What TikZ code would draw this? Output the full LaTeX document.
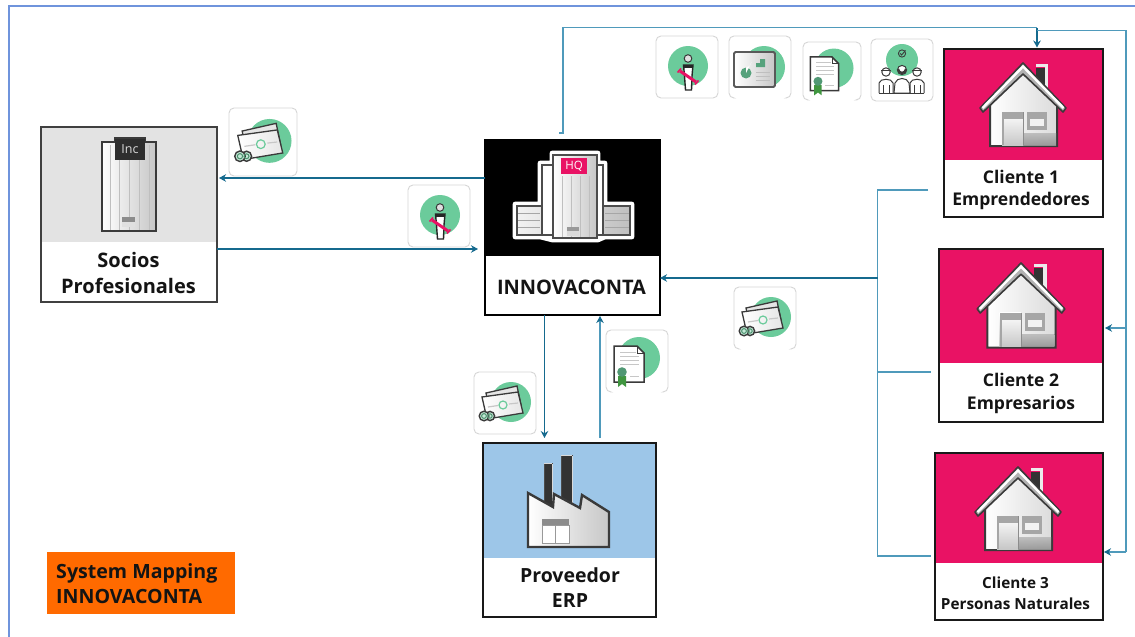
\documentclass[tikz,border=0pt]{standalone}
\usepackage{fontspec}
\setmainfont{Open Sans}
\usetikzlibrary{arrows.meta,calc}
\definecolor{flowdark}{HTML}{156A8E}
\definecolor{flowlight}{HTML}{4F9ABB}
\definecolor{framecol}{HTML}{6F94DC}
\definecolor{tilegreen}{HTML}{6BCB9B}
\definecolor{pinkred}{HTML}{E91264}
\definecolor{greybg}{HTML}{E3E3E3}
\definecolor{bluebg}{HTML}{9DC6E8}
\definecolor{orangebg}{HTML}{FF6A00}
\definecolor{ink}{HTML}{3A3A3A}
\tikzset{
  flow/.style={draw=flowdark,line width=1.2pt},
  flowsoft/.style={draw=flowlight,line width=1.4pt},
  tip/.style={-{Stealth[length=7pt,width=7.5pt,flowdark]}},
  cardbox/.style={rectangle,fill=white,inner sep=0pt,outer sep=0pt},
  cardtext/.style={font=\bfseries,text=black!92,align=center,inner sep=0pt},
  shiny/.style={left color=white,right color=black!22},
  tileedge/.style={draw=black!16,line width=.9pt},
  tile/.pic={\draw[tileedge,fill=white,rounded corners=5pt] (0,0) rectangle (62,62);},
  tileopen/.pic={\draw[tileedge,fill=white,rounded corners=5pt] (4,62) -- (0,62) -- (0,0) -- (62,0) -- (62,62) -- (58,62);},
  personart/.pic={
    \fill[tilegreen] (32,30) circle (20);
    \filldraw[fill=black!12,draw=ink,line width=1pt] (32,22.5) circle (3.8);
    \filldraw[fill=white,draw=black!85,line width=1.4pt] (27.5,29) -- (37,29) -- (36,40) -- (35.5,54) -- (29.5,54) -- (28.5,40) -- cycle;
    \fill[black!85] (27.5,29) rectangle (37,32);
    \draw[pinkred,line width=3pt] (24,35) -- (40,46);
    \draw[pinkred,line width=1.6pt] (21.5,36.5) -- (25,32.5) (39,48.5) -- (42.5,44.5);
  },
  moneyart/.pic={
    \fill[tilegreen] (37,30) circle (20);
    \filldraw[fill=black!10,draw=ink,line width=1.3pt] (12,21) -- (43,14) -- (47,33) -- (16,40) -- cycle;
    \filldraw[left color=white,right color=black!10,draw=ink,line width=1.3pt] (8,25) -- (44,20) -- (49,41) -- (13,47) -- cycle;
    \draw[black!22,line width=1.2pt] (14,35) -- (24,33.5) (35,32) -- (44,31);
    \draw[tilegreen,line width=1.2pt] (29,33) circle (4);
    \filldraw[fill=tilegreen!40,draw=ink,line width=1.4pt] (16,44) circle (4.6);
    \filldraw[fill=tilegreen!40,draw=ink,line width=1.4pt] (10,44) circle (4.8);
    \draw[tilegreen!70!black,line width=1pt] (10,44) circle (2.4) (16,44) circle (2.2);
  },
  chartart/.pic={
    \fill[tilegreen] (35,31) circle (21);
    \filldraw[shiny,draw=black!65,line width=1.8pt,rounded corners=1.5pt] (5,16) rectangle (46,51);
    \fill[tilegreen!80!black] (17,37) circle (5.5);
    \fill[white] (17,37) -- (17,31.5) arc (90:0:5.5) -- cycle;
    \fill[tilegreen!80!black] (27,27) rectangle (31,31) (31,23) rectangle (36,31);
    \draw[black!25,line width=.7pt] (27,36) -- (41,36) (27,40) -- (41,40) (27,44) -- (41,44);
  },
  certart/.pic={
    \fill[tilegreen] (33,28) circle (21);
    \filldraw[fill=white,draw=ink,line width=1.5pt] (8,16) -- (31,16) -- (38,23) -- (38,52) -- (8,52) -- cycle;
    \draw[ink,line width=.8pt] (31,16) -- (31,23) -- (38,23);
    \draw[black!22,line width=.6pt] (14,22) -- (30,22) (14,26) -- (33,26) (14,30) -- (33,30) (14,34) -- (33,34) (24,46) -- (33,46);
    \fill[green!45!black!75] (12,46) -- (20,46) -- (20,57) -- (16,54) -- (12,57) -- cycle;
    \fill[tilegreen!75!black] (16,42) circle (4.8);
  },
  teamart/.pic={
    \fill[tilegreen] (31,21) circle (16);
    \draw[ink,line width=.9pt] (31,14.5) circle (3.6);
    \draw[ink,line width=.9pt] (29.2,14.5) -- (30.6,16) -- (34.5,11.5);
    \foreach \px/\py in {15/33,46/33} {
      \filldraw[fill=white,draw=ink,line width=1pt] (\px,\py) circle (4.2);
      \draw[ink,line width=1.3pt] (\px-4.6,\py-1.5) -- (\px+4.6,\py-1.5);
      \draw[ink,line width=1pt] (\px-7,54) -- (\px-7,44) .. controls (\px-6,39) and (\px+6,39) .. (\px+7,44) -- (\px+7,54);
      \draw[ink,line width=.8pt] (\px-3,54) -- (\px-3,46) (\px+3,54) -- (\px+3,46);
    }
    \filldraw[fill=white,draw=ink,line width=1pt] (31,31) circle (4.6);
    \draw[ink,line width=2.4pt] (27,30) arc (180:0:4);
    \filldraw[fill=white,draw=ink,line width=1pt] (23,54) -- (24,44) .. controls (26,38) and (36,38) .. (38,44) -- (39,54) -- cycle;
    \draw[ink,line width=1pt] (8,54) -- (53,54);
  },
  house/.pic={
    \fill[black!80] (13,5) rectangle (22,28);
    \fill[black!8] (13,1) rectangle (25,4);
    \fill[black!8] (22,1) rectangle (25,28);
    \filldraw[left color=white,right color=black!14,draw=ink,line width=2pt] (-33,42) -- (0,9) -- (34,42) -- (34,83) -- (-33,83) -- cycle;
    \fill[bottom color=black!22,top color=white,opacity=.6] (-10,70) rectangle (33,82);
    \filldraw[fill=black!30,draw=ink,line width=1.6pt,join=round] (0,0) -- (43,45) -- (40,49) -- (0,11) -- (-40,49) -- (-43,45) -- cycle;
    \draw[white,line width=2.4pt] (-40.5,45) -- (0,3.5) -- (40.5,45);
    \fill[top color=white,bottom color=black!22] (-21,49) rectangle (0,82);
    \fill[black!35] (-21,49) rectangle (0,56);
    \fill[black!35] (-21,49) rectangle (-19,82);
    \draw[black!45,line width=.6pt] (0,49) -- (0,82);
    \fill[black!35] (4,49) rectangle (24,67);
    \fill[black!5] (7,56) rectangle (21,63);
  }
}
\newcommand{\card}[7]{% name, center, w, h, split y, top colour, border
  \node[cardbox,minimum width=#3pt,minimum height=#4pt] (#1) at (#2) {};
  \fill[#6] (#1.north west) rectangle (#1.east |- 0,#5);
  \draw[#7,line width=2pt] (#1.north west) rectangle (#1.south east);
}
\begin{document}
\begin{tikzpicture}[x=1pt,y=-1pt]
\useasboundingbox (0,0) rectangle (1135,637);
\fill[white] (0,0) rectangle (1135,637);
\draw[framecol,line width=2pt] (1135,6) -- (8.5,6) -- (8.5,637);

% cards
\card{socios}{129,214.5}{176}{175}{242}{greybg}{black!75}
\card{inno}{572.5,227.5}{175}{175}{256}{black}{black}
\card{prov}{569.5,530}{173}{174}{558}{bluebg}{black!90}
\card{cuno}{1023.5,133}{159}{168}{160}{pinkred}{black!90}
\card{cdos}{1021,335.5}{164}{173}{363}{pinkred}{black!90}
\card{ctres}{1019,536.5}{168}{167}{563}{pinkred}{black!90}

% card labels
\node[cardtext,font=\fontsize{20}{25.5}\selectfont\bfseries] (sociost) at (128.5,273) {Socios\\Profesionales};
\node[cardtext,font=\fontsize{20}{24}\selectfont\bfseries] (innot) at (571.5,287) {INNOVACONTA};
\node[cardtext,font=\fontsize{19.5}{25}\selectfont\bfseries] (provt) at (570,587.5) {Proveedor\\ERP};
\node[cardtext,font=\fontsize{17.5}{22.5}\selectfont\bfseries] (cunot) at (1021,190) {Cliente 1\\Emprendedores};
\node[cardtext,font=\fontsize{17.5}{23}\selectfont\bfseries] (cdost) at (1021,393.5) {Cliente 2\\Empresarios};
\node[cardtext,font=\fontsize{15.3}{21}\selectfont\bfseries] (ctrest) at (1015.5,593.5) {Cliente 3\\Personas Naturales};
\node[fill=orangebg,minimum width=188pt,minimum height=62pt,inner sep=0pt,outer sep=0pt] (orange) at (141,583) {};
\node[cardtext,align=left,anchor=west,font=\fontsize{19.6}{25}\selectfont\bfseries] (oranget) at (56,583.5) {System Mapping\\INNOVACONTA};

% Inc tower
\filldraw[shiny,draw=ink,line width=2.2pt] (102,142) -- (115,142) -- (115,138) -- (145,138) -- (145,142) -- (156,142) -- (156,231) -- (102,231) -- cycle;
\draw[black!25,line width=.6pt] (110,145) -- (110,230) (119,160) -- (119,230) (129,160) -- (129,230) (139,160) -- (139,230) (149,145) -- (149,230);
\fill[black!45] (122,217) rectangle (135,222);
\fill[black!12] (122,222) rectangle (135,227);
\node[fill=black!82,text=black!15,minimum width=30pt,minimum height=21pt,inner sep=0pt,font=\fontsize{12.5}{12}\selectfont] (inc) at (130,149) {Inc};

% HQ tower
\filldraw[fill=white,draw=white,line width=4.6pt,join=round] (515,204) -- (540,204) -- (540,163) -- (552,163) -- (552,153) -- (598,153) -- (598,163) -- (605,163) -- (605,204) -- (632,204) -- (632,237) -- (605,237) -- (598,240) -- (552,240) -- (540,237) -- (515,237) -- cycle;
\filldraw[left color=black!5,right color=black!25,draw=black!70,line width=2.4pt] (517,206) rectangle (630,235);
\draw[black!35,line width=.7pt] (518,213) -- (540,213) (518,220) -- (540,220) (518,227) -- (540,227) (605,213) -- (629,213) (605,220) -- (629,220) (605,227) -- (629,227);
\filldraw[fill=white,draw=black!70,line width=2.4pt] (542,165) rectangle (603,235);
\filldraw[shiny,draw=black!70,line width=2.4pt] (553,155) rectangle (597,238);
\draw[black!25,line width=.6pt] (562,176) -- (562,237) (571,176) -- (571,237) (580,176) -- (580,237) (589,176) -- (589,237);
\fill[black!40] (567,227) rectangle (579,231);
\fill[black!15] (567,231) rectangle (579,236);
\node[fill=pinkred,text=white,minimum width=26pt,minimum height=16pt,inner sep=0pt,font=\fontsize{11.5}{12}\selectfont] (hq) at (574,166) {HQ};

% factory
\filldraw[fill=black!80,draw=black!70,line width=1pt] (544,463) rectangle (552,505);
\filldraw[fill=black!80,draw=black!70,line width=1pt] (561,455) rectangle (572,505);
\draw[black!15,line width=1pt] (552,464) -- (552,505) (572,456) -- (572,505) (544,463) -- (552,463) (561,455) -- (572,455);
\filldraw[shiny,draw=ink,line width=2.4pt] (528,493) -- (553,507) -- (554,494) -- (580,508) -- (582,495) -- (609,512) -- (609,547) -- (528,547) -- cycle;
\fill[black!45] (542,519) rectangle (569,525);
\filldraw[fill=white,draw=black!40,line width=.7pt] (542,525) rectangle (555.5,543);
\filldraw[fill=white,draw=black!40,line width=.7pt] (555.5,525) rectangle (569,543);

% houses
\pic (houseuno) at (1023,63) {house};
\pic[scale=1.02] (housedos) at (1021,263) {house};
\pic (housetres) at (1018,467) {house};

% tiles
\pic[scale=68/62] (tmoneya) at (229,108) {tile};
\pic[scale=68/62] (amoneya) at (229,108) {moneyart};
\pic (tpersona) at (408,185) {tile};
\pic (apersona) at (408,185) {personart};
\pic (tpersonb) at (656,36) {tile};
\pic (apersonb) at (656,36) {personart};
\pic (tchart) at (729,36) {tileopen};
\pic (achart) at (729,36) {chartart};
\pic[scale=58/62] (tcerta) at (803,42) {tileopen};
\pic[scale=58/62] (acerta) at (803,42) {certart};
\pic (tteam) at (871,39) {tile};
\pic (ateam) at (871,39) {teamart};
\pic (tmoneyb) at (474,372) {tile};
\pic (amoneyb) at (474,372) {moneyart};
\pic (tcertb) at (606,330) {tileopen};
\pic (acertb) at (606,330) {certart};
\pic (tmoneyc) at (734,287) {tileopen};
\pic (amoneyc) at (734,287) {moneyart};

% free connector points
\coordinate (busone) at (877.5,190);
\coordinate (bustwo) at (877.5,372);
\coordinate (busthree) at (877.5,556);
\coordinate (busin) at (877.5,278);
\coordinate (stubone) at (928,190);
\coordinate (stubtwo) at (931,372);
\coordinate (stubthree) at (931,556);
\coordinate (topstart) at (559,133);
\coordinate (topleft) at (563,133);
\coordinate (topcorner) at (563,27.5);
\coordinate (topj) at (1037,27.5);
\coordinate (rightj) at (1037,30.5);
\coordinate (rightc) at (1126,30.5);
\coordinate (righta) at (1126,328);
\coordinate (rightb) at (1126,552);

% connectors
\draw[flow,tip,shorten >=2pt] (inno.west |- 0,178) -- (socios.east |- 0,178);
\draw[flow,tip,shorten >=7pt] (socios.east |- 0,249) -- (inno.west |- 0,249);
\draw[flow,tip,shorten >=5pt] (inno.south -| 544.5,0) -- (prov.north -| 544.5,0);
\draw[flowsoft,tip,shorten <=5pt,shorten >=1pt] (prov.north -| 600,0) -- (inno.south -| 600,0);
\draw[flowsoft] (stubone) -- (busone) -- (busthree) -- (stubthree);
\draw[flowsoft] (bustwo) -- (stubtwo);
\draw[flowdark,line width=2.2pt,tip] (busin) -- (inno.east |- busin);
\draw[flowsoft] (topstart) -- (topleft) -- (topcorner) -- (topj);
\draw[flow,tip,shorten >=1.5pt] (topj) -- (cuno.north -| topj);
\draw[flowsoft] (rightj) -- (rightc) -- (rightb);
\draw[flowsoft,tip,shorten >=2pt] (righta) -- (cdos.east |- righta);
\draw[flowsoft,tip,shorten >=1pt] (rightb) -- (ctres.east |- rightb);
\end{tikzpicture}
\end{document}
